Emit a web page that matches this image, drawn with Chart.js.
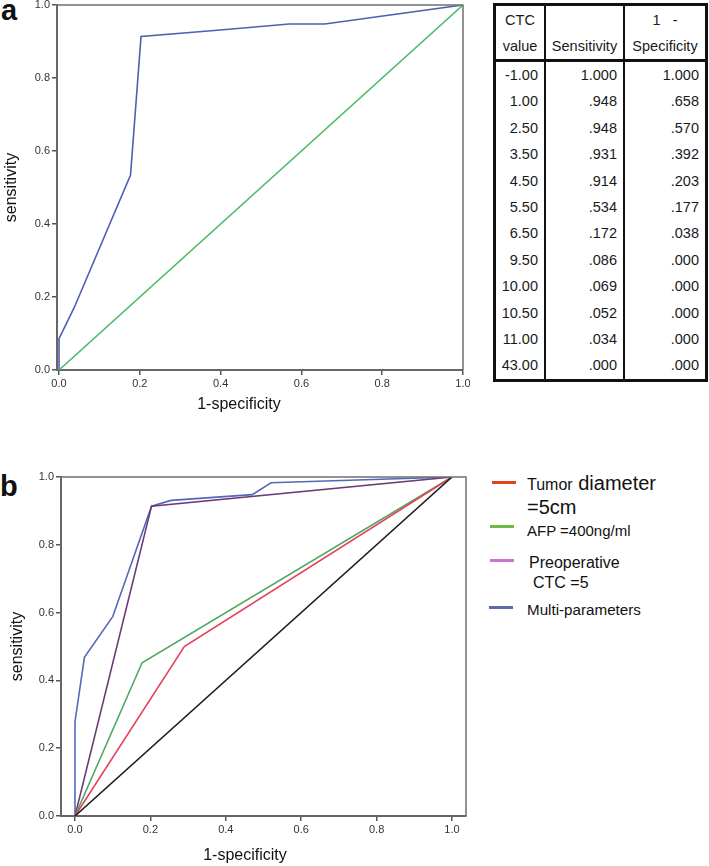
<!DOCTYPE html>
<html>
<head>
<meta charset="utf-8">
<script src="https://cdn.jsdelivr.net/npm/chart.js@4.4.1/dist/chart.umd.min.js"></script>
<style>
  body { margin: 0; background: #fff; font-family: "Liberation Sans", Arial, sans-serif; }
  #page { position: relative; width: 709px; height: 866px; overflow: hidden; }
  .abs { position: absolute; white-space: nowrap; color: #111; line-height: 1; }
  .panel { font-weight: bold; font-size: 29px; }
  .xtitle { font-size: 16px; transform: translateX(-50%); }
  .sw { position: absolute; height: 2.5px; width: 24px; }
  #rocTable { position: absolute; left: 493px; top: 3px; width: 215px; border-collapse: collapse;
    border: 3px solid #111; font-size: 14.5px; color: #1a1a1a; }
  #rocTable th { font-weight: normal; text-align: center; vertical-align: bottom; line-height: 26px;
    padding: 1px 2px 0 2px; border-bottom: 3px solid #111; }
  #rocTable td { text-align: right; padding: 0 6px 0 0; line-height: 26.4px; height: 26.4px; }
  #rocTable th, #rocTable td { border-left: 2px solid #111; }
</style>
</head>
<body>
<div id="page">
  <div class="abs panel" style="left:1px; top:-4px;">a</div>
  <canvas id="chartA" width="470" height="426" style="position:absolute; left:0; top:-6px;"></canvas>
  <div class="abs xtitle" style="left:239px; top:396px;">1-specificity</div>

  <table id="rocTable">
    <thead>
      <tr><th style="width:44px">CTC<br>value</th><th style="width:73px">Sensitivity</th><th>1&nbsp;&nbsp; -<br>Specificity</th></tr>
    </thead>
    <tbody id="rocBody"></tbody>
  </table>

  <div class="abs panel" style="left:0; top:472px;">b</div>
  <canvas id="chartB" width="480" height="426" style="position:absolute; left:0; top:440px;"></canvas>
  <div class="abs xtitle" style="left:245px; top:847px;">1-specificity</div>

  <!-- chú thích panel b -->
  <div class="sw" style="left:492px; top:481px; background:#e2431f;"></div>
  <div class="abs" style="left:527px; top:473px; font-size:20px;"><span style="font-size:16px">Tumor</span> diameter</div>
  <div class="abs" style="left:527px; top:497px; font-size:20px;">=5cm</div>
  <div class="sw" style="left:490px; top:525px; background:#6cbb45;"></div>
  <div class="abs" style="left:527px; top:523px; font-size:15px;">AFP =400ng/ml</div>
  <div class="sw" style="left:490px; top:559px; background:#d173d6;"></div>
  <div class="abs" style="left:529px; top:555px; font-size:16px;">Preoperative</div>
  <div class="abs" style="left:533px; top:575px; font-size:16px;">CTC =5</div>
  <div class="sw" style="left:489px; top:606px; background:#5a6bb0;"></div>
  <div class="abs" style="left:527px; top:602px; font-size:15.2px;">Multi-parameters</div>
</div>

<script>
// Bảng tọa độ ROC của CTC (panel a)
const ctcValues = ["-1.00", "1.00", "2.50", "3.50", "4.50", "5.50", "6.50", "9.50", "10.00", "10.50", "11.00", "43.00"];
const sensitivityA = ["1.000", ".948", ".948", ".931", ".914", ".534", ".172", ".086", ".069", ".052", ".034", ".000"];
const oneMinusSpecA = ["1.000", ".658", ".570", ".392", ".203", ".177", ".038", ".000", ".000", ".000", ".000", ".000"];

// đường chéo tham chiếu
const diagonalX = [0, 1];
const diagonalY = [0, 1];

// panel b: các đường ROC
const tumorFpr = [0, 0.29, 1];
const tumorTpr = [0, 0.50, 1];
const afpFpr = [0, 0.178, 1];
const afpTpr = [0, 0.452, 1];
const ctcFpr = [0, 0.203, 1];
const ctcTpr = [0, 0.914, 1];
const multiFpr = [0, 0, 0.025, 0.10, 0.203, 0.255, 0.47, 0.52, 1];
const multiTpr = [0, 0.278, 0.468, 0.588, 0.914, 0.931, 0.948, 0.983, 1];

const axisTicks = [0, 0.2, 0.4, 0.6, 0.8, 1.0];

// Điền bảng
const tbody = document.getElementById("rocBody");
ctcValues.forEach((v, i) => {
  const tr = document.createElement("tr");
  [v, sensitivityA[i], oneMinusSpecA[i]].forEach((txt) => {
    const td = document.createElement("td");
    td.textContent = txt;
    tr.appendChild(td);
  });
  tbody.appendChild(tr);
});

const toPoints = (xs, ys) => xs.map((x, i) => ({ x: x, y: ys[i] }));

// khung trên + phải của vùng vẽ
const framePlugin = {
  id: "frame",
  afterDraw(chart) {
    const { ctx, chartArea: a } = chart;
    ctx.save();
    ctx.strokeStyle = "#707070";
    ctx.lineWidth = 1.5;
    ctx.beginPath();
    ctx.moveTo(a.left, a.top);
    ctx.lineTo(a.right, a.top);
    ctx.lineTo(a.right, a.bottom);
    ctx.stroke();
    ctx.restore();
  },
};

function makeScale(min, max, fit, isY, titlePad) {
  return {
    type: "linear",
    min: min,
    max: max,
    afterBuildTicks: (s) => { s.ticks = axisTicks.map((v) => ({ value: v })); },
    afterFit: (s) => {
      if (isY) s.width = fit; else s.height = fit;
      s.paddingLeft = 0; s.paddingRight = 0; s.paddingTop = 0; s.paddingBottom = 0;
    },
    grid: { drawOnChartArea: false, drawTicks: true, tickLength: 5, color: "#555", lineWidth: 1.5 },
    border: { color: "#666", width: 2 },
    ticks: {
      padding: 2,
      color: "#333",
      font: { size: 11, family: "'Liberation Sans', Arial" },
      maxRotation: 0,
      callback: (v) => Number(v).toFixed(1),
    },
    title: isY
      ? { display: true, text: "sensitivity", color: "#111", padding: { top: titlePad, bottom: 0 },
          font: { size: 16, family: "'Liberation Sans', Arial" } }
      : { display: false },
  };
}

function lineSet(xs, ys, color) {
  return {
    data: toPoints(xs, ys),
    showLine: true,
    borderColor: color,
    borderWidth: 1.6,
    pointRadius: 0,
    tension: 0,
  };
}

const commonOpts = {
  responsive: false,
  animation: false,
  plugins: { legend: { display: false }, tooltip: { enabled: false } },
};

new Chart(document.getElementById("chartA"), {
  type: "scatter",
  data: {
    datasets: [
      lineSet(diagonalX, diagonalY, "#4dbb6c"),
      lineSet(oneMinusSpecA.map(parseFloat), sensitivityA.map(parseFloat), "#4d5fb3"),
    ],
  },
  options: {
    ...commonOpts,
    layout: { padding: { top: 11, right: 7, left: 0, bottom: 0 } },
    scales: {
      x: makeScale(-0.005, 1.0, 50, false),
      y: makeScale(0, 1, 57, true, 2),
    },
  },
  plugins: [framePlugin],
});

new Chart(document.getElementById("chartB"), {
  type: "scatter",
  data: {
    datasets: [
      lineSet(diagonalX, diagonalY, "#1e1e1e"),
      lineSet(tumorFpr, tumorTpr, "#e6405a"),
      lineSet(afpFpr, afpTpr, "#4fa862"),
      lineSet(ctcFpr, ctcTpr, "#6b3a78"),
      lineSet(multiFpr, multiTpr, "#5767b7"),
    ],
  },
  options: {
    ...commonOpts,
    layout: { padding: { top: 37, right: 14, left: 0, bottom: 0 } },
    scales: {
      x: makeScale(-0.0371, 1.0371, 50, false),
      y: makeScale(0, 1, 61, true, 8),
    },
  },
  plugins: [framePlugin],
});
</script>
</body>
</html>
